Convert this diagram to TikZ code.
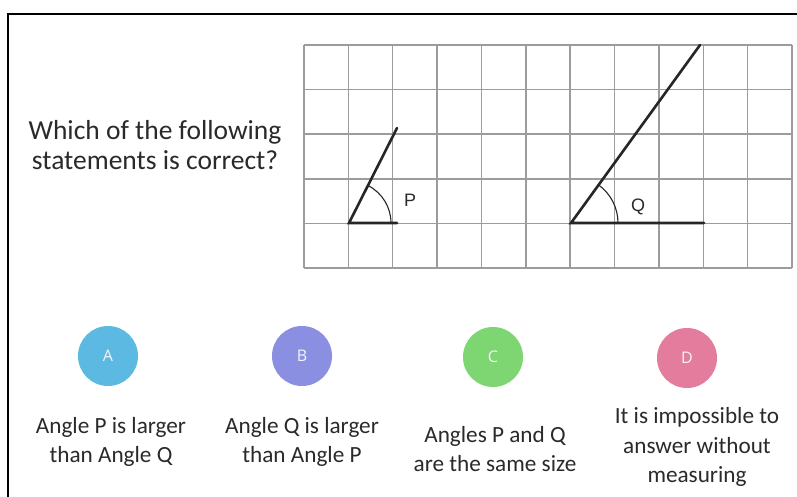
\documentclass[tikz,border=0pt]{standalone}
\usepackage{fontspec}
\setmainfont{Carlito}
\newfontfamily\labelfont{Liberation Sans}
\newfontfamily\letterfont{Open Sans}
\definecolor{txt}{HTML}{2A2A2A}
\definecolor{gridc}{HTML}{9C9C9C}
\definecolor{ca}{HTML}{5BB9E2}
\definecolor{cb}{HTML}{8A8FE2}
\definecolor{cc}{HTML}{7ED672}
\definecolor{cd}{HTML}{E47C9D}
\tikzset{
  gridline/.style={draw=gridc, line width=1.5pt},
  arm/.style={draw=black!85, line width=2.6pt, line cap=round},
  anglearc/.style={draw=black!85, line width=1.1pt},
  question/.style={text=txt, align=center, inner sep=0pt, font=\fontsize{27.5}{30.5}\selectfont},
  answer/.style={text=txt, align=center, inner sep=0pt, font=\fontsize{23.2}{29.5}\selectfont},
  anglelabel/.style={text=txt, inner sep=0pt, font=\labelfont\fontsize{18}{18}\selectfont},
  choice/.style={circle, minimum size=60pt, inner sep=0pt, text=white!92!gray, font=\letterfont\fontsize{16}{16}\selectfont},
}
\begin{document}
\begin{tikzpicture}[x=1pt,y=-1pt]
\clip (0,0) rectangle (797,496);
\fill[white] (0,0) rectangle (797,496);
\draw[line width=2pt] (8,14) rectangle (830,530);
% grid
\foreach \i in {0,...,11} \draw[gridline] ({304+44.36*\i},45) -- ({304+44.36*\i},268);
\foreach \j in {0,...,5} \draw[gridline] (304,{45+44.6*\j}) -- (792,{45+44.6*\j});
% question
\node[question] (q) at (155,145) {Which of the following\\statements is correct?};
% angle P
\coordinate (P0) at (349,223);
\coordinate (P1) at (397,128);
\coordinate (P2) at (397,223);
\draw[arm] (P1) -- (P0) -- (P2);
\draw[anglearc] ([xshift=42pt]P0) arc[start angle=0, end angle=-63, radius=42];
\node[anglelabel] (pl) at (410,200) {P};
% angle Q
\coordinate (Q0) at (571,223);
\coordinate (Q1) at (700,45);
\coordinate (Q2) at (704,223);
\draw[arm] (Q1) -- (Q0) -- (Q2);
\draw[anglearc] ([xshift=47pt]Q0) arc[start angle=0, end angle=-54, radius=47];
\node[anglelabel] (ql) at (638,207) {Q};
% choices
\node[choice, fill=ca] (A) at (108,356) {A};
\node[choice, fill=cb] (B) at (302,356) {B};
\node[choice, fill=cc] (C) at (493,357) {C};
\node[choice, fill=cd] (D) at (687,358) {D};
\node[answer] (ta) at (111,442) {Angle P is larger\\than Angle Q};
\node[answer] (tb) at (302,442) {Angle Q is larger\\than Angle P};
\node[answer] (tc) at (495,449) {Angles P and Q\\are the same size};
\node[answer] (td) at (697,447) {It is impossible to\\answer without\\measuring};
\end{tikzpicture}
\end{document}
